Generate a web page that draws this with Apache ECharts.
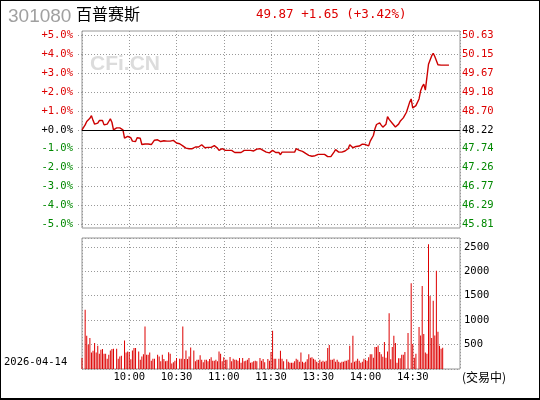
<!DOCTYPE html>
<html><head><meta charset="utf-8">
<script src="https://cdn.jsdelivr.net/npm/echarts@6/dist/echarts.min.js"></script>
<style>
html,body{margin:0;padding:0;background:#fff}
#wrap{position:relative;width:540px;height:400px}
#chart{position:absolute;left:0;top:0;width:540px;height:400px}
#frame{position:absolute;left:0;top:0;width:540px;height:400px;box-sizing:border-box;border:1px solid #000;border-bottom-width:2px;pointer-events:none}
</style></head><body>
<div id="wrap"><div id="chart"></div><div id="frame"></div></div>
<script>
// ---- data ----
const stockCode = '301080';
const stockName = '百普赛斯';
const prevClose = 48.22;
const lastPrice = 49.87;
const change = 1.65;
const changePct = 3.42;
const dateText = '2026-04-14';
const statusText = '(交易中)';
// tick positions (minutes since 9:30 on the 241-minute trading axis) and their labels
const tickMinutes = [30, 60, 90, 120, 150, 180, 210];
const tickLabels = ['10:00', '10:30', '11:00', '11:30', '13:30', '14:00', '14:30'];
// percent change vs previous close, one value per minute
const pctChange = [
  0.00,0.10,0.26,0.44,0.50,0.61,0.75,0.50,0.30,0.23,0.35,0.49,0.49,0.49,0.26,0.30,0.30,0.44,0.58,0.40,
  0.00,-0.05,0.10,0.15,0.10,0.10,0.00,-0.44,-0.35,-0.35,-0.33,-0.42,-0.60,-0.62,-0.62,-0.42,-0.44,-0.45,-0.78,-0.79,
  -0.75,-0.80,-0.75,-0.68,-0.78,-0.80,-0.55,-0.50,-0.53,-0.60,-0.62,-0.60,-0.58,-0.55,-0.60,-0.62,-0.60,-0.55,-0.56,-0.65,
  -0.70,-0.72,-0.74,-0.79,-0.85,-0.90,-0.97,-1.00,-1.00,-1.00,-1.00,-1.00,-0.91,-0.97,-0.91,-0.91,-0.79,-0.88,-0.95,-0.91,
  -0.93,-0.93,-0.93,-0.84,-0.84,-0.84,-0.97,-1.09,-1.03,-1.00,-1.09,-1.09,-1.09,-1.09,-1.09,-1.09,-1.18,-1.20,-1.26,-1.20,
  -1.20,-1.20,-1.20,-1.09,-1.09,-1.09,-1.09,-1.09,-1.12,-1.12,-1.12,-1.02,-1.02,-1.00,-1.00,-1.09,-1.18,-1.18,-1.18,-1.22,
  -1.18,-1.09,-1.15,-1.20,-1.20,-1.20,-1.32,-1.18,-1.18,-1.18,-1.18,-1.18,-1.18,-1.18,-1.18,-1.18,-1.00,-1.05,-1.09,-1.12,
  -1.14,-1.18,-1.25,-1.30,-1.35,-1.40,-1.40,-1.40,-1.37,-1.33,-1.30,-1.33,-1.30,-1.40,-1.30,-1.37,-1.42,-1.42,-1.42,-1.38,
  -1.18,-1.05,-1.12,-1.18,-1.18,-1.18,-1.15,-1.12,-1.05,-1.00,-0.79,-0.83,-0.95,-0.95,-0.88,-0.84,-0.86,-0.80,-0.76,-0.74,
  -0.78,-0.80,-0.85,-0.60,-0.51,-0.30,0.05,0.28,0.37,0.37,0.25,0.14,0.15,0.30,0.70,0.55,0.45,0.35,0.25,0.15,
  0.10,0.30,0.45,0.50,0.63,0.63,0.93,1.00,1.45,1.63,1.15,1.20,1.28,1.19,1.63,2.07,2.28,2.42,2.10,2.10,
  3.47,3.55,3.91,4.05,3.88,3.85,3.44,3.42,3.42,3.42,3.42,3.42,3.42,3.42
];
// volume per minute
const volume = [
  224,0,1210,680,496,632,340,373,530,340,475,312,394,408,312,312,210,292,380,408,
  414,0,414,210,257,270,0,584,340,360,350,200,380,428,428,0,360,190,258,300,
  870,292,292,340,170,210,210,0,292,258,160,292,204,160,170,345,312,115,136,170,
  224,0,210,210,870,204,380,204,258,441,0,380,156,190,190,280,190,136,190,190,
  156,204,238,170,170,190,156,360,312,156,238,190,190,0,245,156,210,190,190,170,
  224,130,224,156,170,190,224,130,136,156,170,156,0,224,170,204,136,0,204,170,
  347,781,210,210,0,210,373,210,160,0,200,150,130,130,130,160,210,190,150,340,
  150,130,150,200,300,230,240,210,190,150,130,190,150,170,150,170,428,490,190,190,
  210,150,190,150,130,150,150,170,170,190,475,130,680,150,170,210,170,130,150,210,
  190,170,240,300,300,230,449,450,480,350,300,250,551,230,360,1142,200,449,680,530,
  130,220,220,290,290,350,0,734,0,1754,510,230,310,0,857,685,1700,714,340,310,
  2550,1495,632,1394,685,2012,761,475,414,435
];

// ---- styles ----
const RED = '#dd0000', GREEN = '#008800', LINE = '#cc0000';
const GRIDC = '#999999', FRAMEC = '#969696';
const MONO = 'DejaVu Sans Mono';
const dots = {color: GRIDC, width: 1, type: [1, 2]};
const sgn = v => (+v > 0.0001 ? 1 : (+v < -0.0001 ? -1 : 0));
const pctColor = v => (sgn(v) > 0 ? RED : (sgn(v) < 0 ? GREEN : '#000'));
const pctFmt = v => (sgn(v) < 0 ? '-' : '+') + Math.abs(+v).toFixed(1) + '%';
const timeFmt = v => { const i = tickMinutes.indexOf(Math.round(+v)); return i >= 0 ? tickLabels[i] : ''; };

const L = 82, R = 80;
const chart = echarts.init(document.getElementById('chart'), null, {renderer: 'canvas'});
chart.setOption({
  animation: false,
  backgroundColor: '#fff',
  title: [
    {text: stockCode, left: 8, top: 7, padding: 0, textStyle: {fontFamily: 'Liberation Sans', fontSize: 19, fontWeight: 'normal', color: '#a0a0a0'}},
    {text: stockName, left: 76, top: 6, padding: 0, textStyle: {fontFamily: 'Noto Sans CJK SC', fontSize: 16, fontWeight: 'normal', color: '#000'}},
    {text: lastPrice.toFixed(2) + ' +' + change.toFixed(2) + ' (+' + changePct.toFixed(2) + '%)', left: 256, top: 8, padding: 0,
     textStyle: {fontFamily: MONO, fontSize: 12.5, fontWeight: 'normal', color: RED}},
    {text: 'CFi.CN', left: 90, top: 54, padding: 0, textStyle: {fontFamily: 'Liberation Sans', fontSize: 21, fontWeight: 'bold', color: '#dcdcdc'}},
    {text: dateText, left: 4, top: 357, padding: 0, textStyle: {fontFamily: MONO, fontSize: 10.5, fontWeight: 'normal', color: '#000'}},
    {text: statusText, left: 462, top: 371, padding: 0, textStyle: {fontFamily: 'Noto Sans CJK SC', fontSize: 12, fontWeight: 'normal', color: '#000'}}
  ],
  grid: [
    {left: L, right: R, top: 31, height: 197, show: true, borderColor: FRAMEC, borderWidth: 1, backgroundColor: 'transparent', outerBoundsMode: 'none'},
    {left: L, right: R, top: 35.3, height: 189, outerBoundsMode: 'none'},
    {left: L, right: R, top: 238, height: 131, show: true, borderColor: FRAMEC, borderWidth: 1, backgroundColor: 'transparent', outerBoundsMode: 'none'}
  ],
  xAxis: [
    {gridIndex: 0, type: 'value', min: 0, max: 240, interval: 30, axisLine: {show: false}, axisTick: {show: false}, axisLabel: {show: false}, splitLine: {show: true, lineStyle: dots}},
    {gridIndex: 1, type: 'value', min: 0, max: 240, show: false},
    {gridIndex: 2, type: 'value', min: 0, max: 240, interval: 30, axisLine: {show: false}, axisTick: {show: false},
     axisLabel: {show: true, margin: 3, formatter: timeFmt, fontFamily: MONO, fontSize: 10.5, color: '#000', showMinLabel: false, showMaxLabel: false},
     splitLine: {show: true, lineStyle: dots}}
  ],
  yAxis: [
    {gridIndex: 0, type: 'value', min: 0, max: 1, show: false},
    {gridIndex: 1, type: 'value', position: 'left', min: -5, max: 5, interval: 1,
     axisLine: {show: false}, axisTick: {show: true, length: 4, lineStyle: dots},
     axisLabel: {margin: 9, fontFamily: MONO, fontSize: 10.5, color: pctColor, formatter: pctFmt},
     splitLine: {show: true, lineStyle: dots}},
    {gridIndex: 1, type: 'value', position: 'right', min: -5, max: 5, interval: 1,
     axisLine: {show: false}, axisTick: {show: false}, splitLine: {show: false},
     axisLabel: {margin: 2, fontFamily: MONO, fontSize: 10.5, color: pctColor, formatter: v => (prevClose * (1 + v / 100)).toFixed(2)}},
    {gridIndex: 2, type: 'value', position: 'right', min: 0, max: 2680, interval: 500,
     axisLine: {show: false}, axisTick: {show: false}, splitLine: {show: true, lineStyle: dots},
     axisLabel: {margin: 4, fontFamily: MONO, fontSize: 10.5, color: '#000', showMinLabel: false, showMaxLabel: false, formatter: v => String(Math.round(v))}}
  ],
  series: [
    {type: 'line', xAxisIndex: 1, yAxisIndex: 1, data: pctChange.map((v, i) => [i, v]), showSymbol: false, symbol: 'none',
     lineStyle: {color: LINE, width: 1.4}, silent: true,
     markLine: {silent: true, symbol: 'none', label: {show: false}, lineStyle: {color: '#000', type: 'solid', width: 1}, data: [{yAxis: 0}]}},
    {type: 'bar', xAxisIndex: 2, yAxisIndex: 3, data: volume.map((v, i) => [i, v]), barWidth: 1, itemStyle: {color: RED}, silent: true}
  ]
});
</script>
</body></html>
